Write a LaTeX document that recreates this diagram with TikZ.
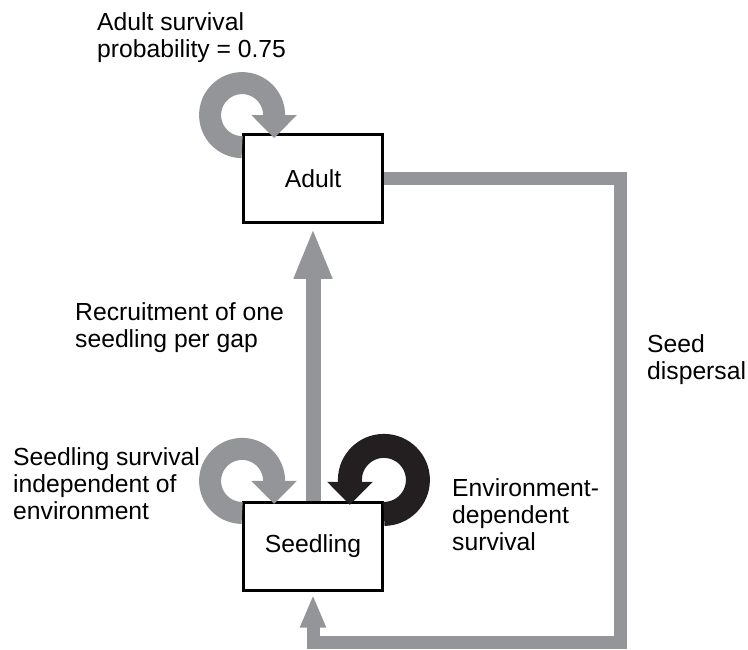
\documentclass[tikz,border=0pt]{standalone}
\usepackage{fontspec}
\setmainfont{Liberation Sans}
\usepackage{tikz}
\usetikzlibrary{positioning, arrows.meta}
\definecolor{pfeilgrau}{RGB}{147,149,152}
\definecolor{pfeilschwarz}{RGB}{35,31,32}
\tikzset{kasten/.style={rectangle,draw=black,line width=2.8pt,fill=white,
		minimum width=139pt, minimum height=88pt, font=\fontsize{24.7}{27}\selectfont},
	beschriftung/.style={anchor=north west, inner sep=0pt, align=left,
		font=\fontsize{24.7}{27}\selectfont},
	schleife/.style={line width=22pt, -{Triangle[width=44pt,length=23pt]}},
	steil/.style={pfeilgrau, line width=15pt, -{Triangle[width=35pt,length=51pt]}},
	ausbreitung/.style={pfeilgrau, line width=13pt, line join=miter,
		-{Triangle[width=24pt,length=33pt]}} }

\begin{document}
\begin{tikzpicture}[x=1pt,y=1pt]
  \useasboundingbox (0,0) rectangle (748,-649);

  \node (adult) [kasten] at (313,-178.5) {Adult};
  \node (seedling) [kasten, below=277pt of adult] {Seedling};
  \coordinate (ecke) at (620,-642);

  % Uebergaenge
  \draw[steil] (seedling.north) -- ([yshift=-4pt]adult.south);
  \draw[ausbreitung] (adult.east) -| (ecke) -| ([yshift=-3pt]seedling.south);

  % Schleifen
  \draw[schleife, pfeilgrau] ([yshift=-14pt]adult.north west)
  	arc[start angle=270, end angle=0, radius=32] -- ++(0,-23);
  \draw[schleife, pfeilgrau] ([yshift=-12pt]seedling.north west)
  	arc[start angle=270, end angle=0, radius=32] -- ++(0,-23);
  \draw[schleife, pfeilschwarz, line width=24pt] ([yshift=-13pt]seedling.north east)
  	arc[start angle=-90, end angle=180, radius=34] -- ++(0,-25);

  % Beschriftungen
  \node (adulttext) [beschriftung] at (97,-12) {Adult survival\\probability = 0.75};
  \node (rekrutierung) [beschriftung] at (75,-302) {Recruitment of one\\seedling per gap};
  \node (samen) [beschriftung] at (647,-334) {Seed\\dispersal};
  \node (unabhaengig) [beschriftung] at (13,-447) {Seedling survival\\independent of\\environment};
  \node (abhaengig) [beschriftung] at (452,-478) {Environment-\\dependent\\survival};
\end{tikzpicture}
\end{document}
